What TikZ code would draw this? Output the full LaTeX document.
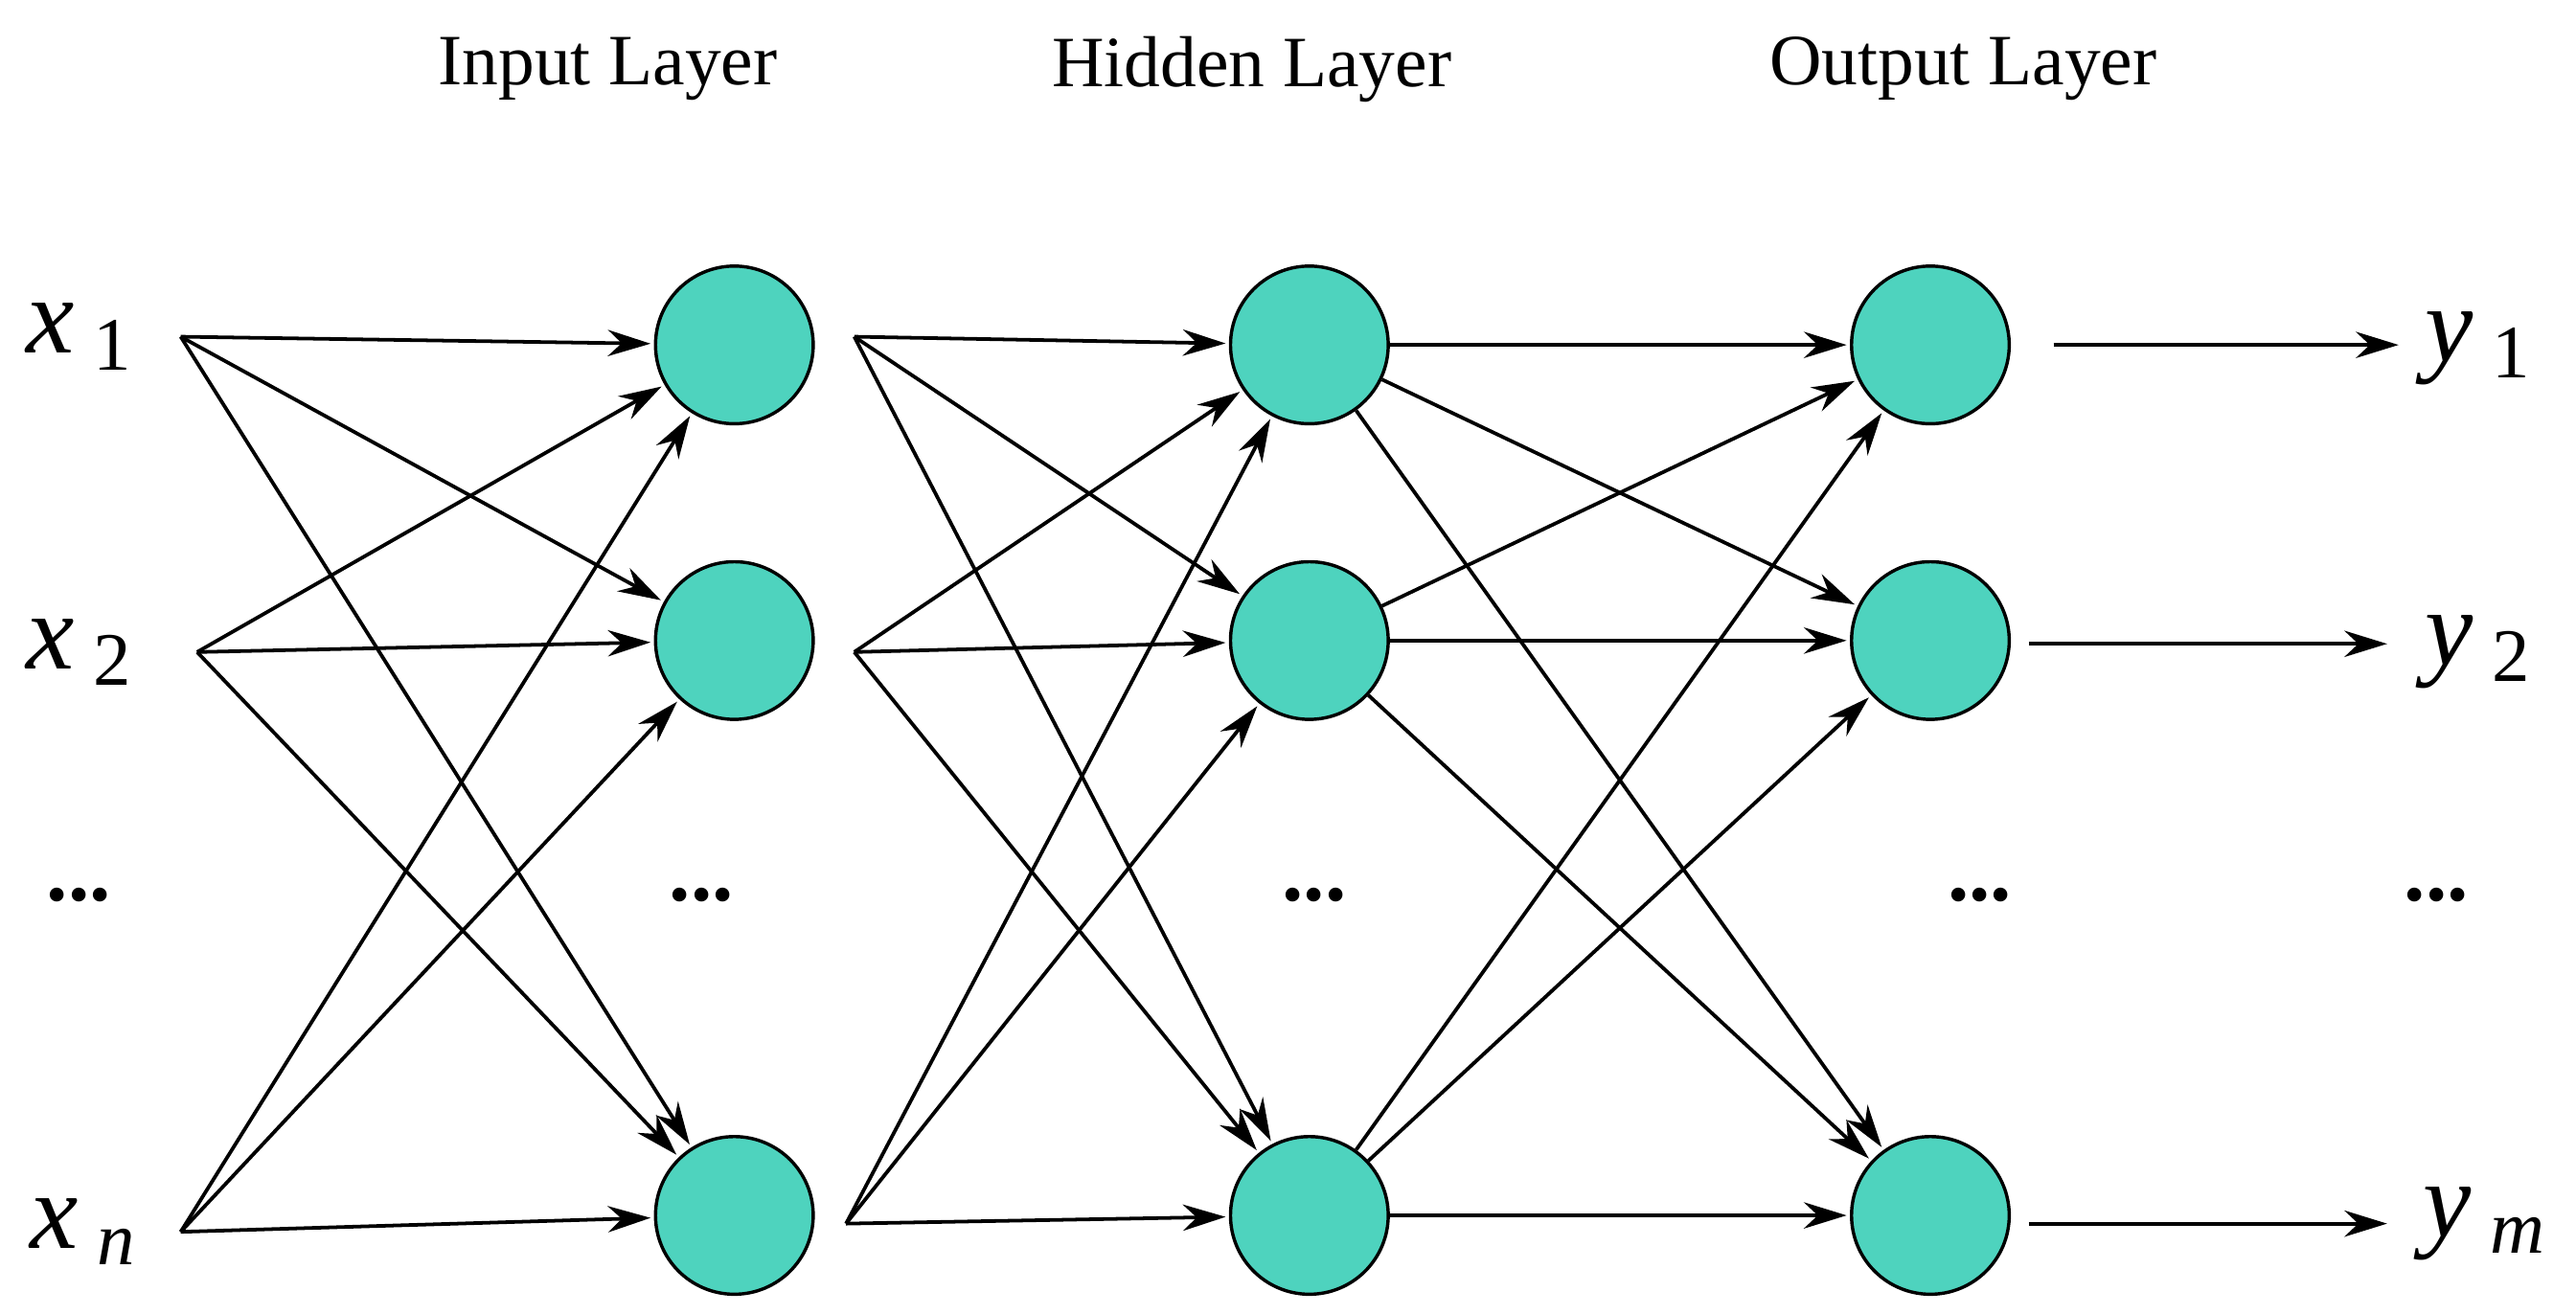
\documentclass[tikz,border=0pt]{standalone}
\usepackage{fontspec}
\setmainfont{Liberation Serif}
\usetikzlibrary{arrows.meta}
\newcommand{\lab}[3]{{\fontsize{66}{66}\selectfont\itshape #1}\raisebox{-10pt}{\fontsize{46}{46}\selectfont#3 #2}}
\begin{document}
\begin{tikzpicture}[x=1pt,y=-1pt,
  neu/.style={circle,draw=black,line width=2pt,fill={rgb,255:red,78;green,211;blue,190},minimum size=96pt,inner sep=0pt},
  ar/.style={-{Stealth[length=26pt,width=16pt]},line width=2.2pt,shorten >=2pt},
  lbl/.style={},
  ttl/.style={font=\fontsize{44}{44}\selectfont},
  dt/.style={font=\fontsize{52}{52}\selectfont\bfseries}]
\useasboundingbox (0,0) rectangle (1568,800);
\node[ttl] (t1) at (370,42) {Input Layer};
\node[ttl] (t2) at (762,42) {Hidden Layer};
\node[ttl] (t3) at (1195,42) {Output Layer};
\foreach \c/\x in {a/447,b/797,c/1175}{
  \node[neu] (\c1) at (\x,210) {};
  \node[neu] (\c2) at (\x,390) {};
  \node[neu] (\c3) at (\x,740) {};
}
\node[lbl] (x1) at (48,205) {\lab{x}{1}{\upshape}};
\node[lbl] (x2) at (48,397) {\lab{x}{2}{\upshape}};
\node[lbl] (x3) at (50,750) {\lab{x}{n}{\itshape}};
\node[lbl] (y1) at (1508,212) {\lab{y}{1}{\upshape}};
\node[lbl] (y2) at (1508,397) {\lab{y}{2}{\upshape}};
\node[lbl] (y3) at (1512,745) {\lab{y}{m}{\itshape}};
\node[dt] (d0) at (48,545) {...};
\node[dt] (d1) at (427,545) {...};
\node[dt] (d2) at (800,545) {...};
\node[dt] (d3) at (1205,545) {...};
\node[dt] (d4) at (1483,545) {...};
\coordinate (s1) at (110,205);
\coordinate (s2) at (120,397);
\coordinate (s3) at (110,750);
\coordinate (h1) at (520,205);
\coordinate (h2) at (520,397);
\coordinate (h3) at (515,745);
\coordinate (o1) at (1250,210);
\coordinate (o2) at (1235,392);
\coordinate (o3) at (1235,745);
\foreach \i in {1,2,3}{\foreach \j in {1,2,3}{
  \draw[ar] (s\i) -- (a\j);
  \draw[ar] (h\i) -- (b\j);
  \draw[ar] (b\i) -- (c\j);
}}
\draw[ar] (o1) -- (1462,210);
\draw[ar] (o2) -- (1455,392);
\draw[ar] (o3) -- (1455,745);
\end{tikzpicture}
\end{document}
